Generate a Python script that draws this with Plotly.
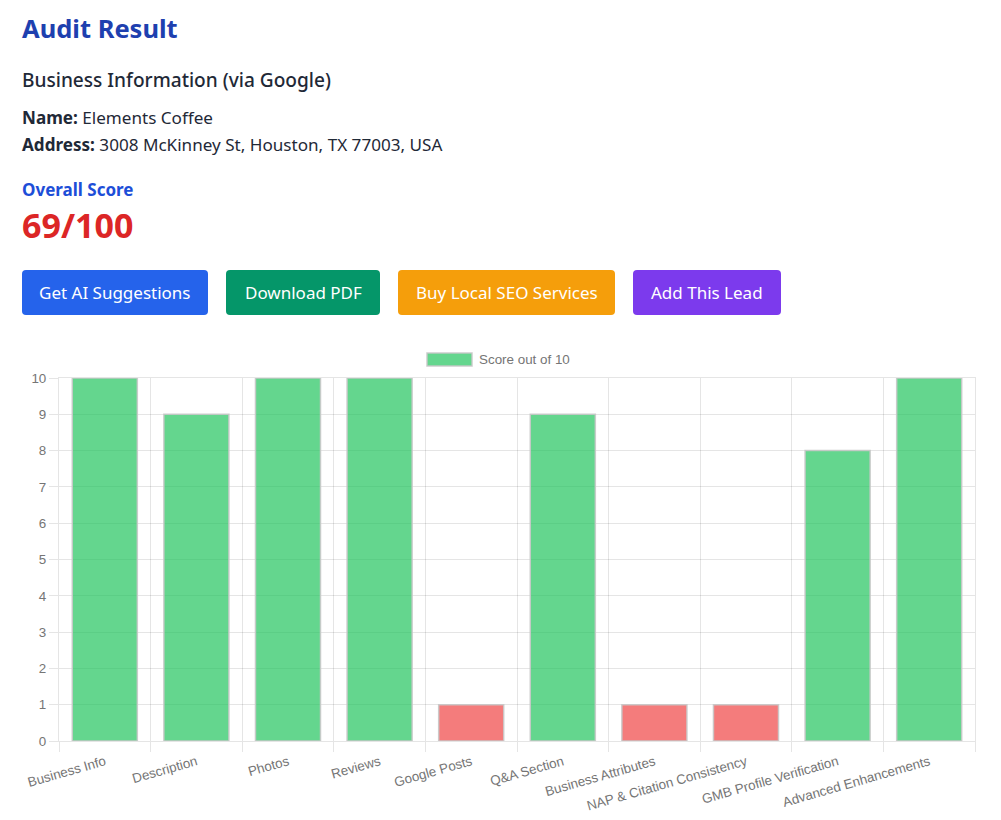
import plotly.graph_objects as go

categories = ["Business Info", "Description", "Photos", "Reviews", "Google Posts", "Q&A Section",
              "Business Attributes", "NAP & Citation Consistency", "GMB Profile Verification",
              "Advanced Enhancements"]
scores = [10, 9, 10, 10, 1, 9, 1, 1, 8, 10]
y_ticks = list(range(0, 11))
series_name = "Score out of 10"

button_labels = ["Get AI Suggestions", "Download PDF", "Buy Local SEO Services", "Add This Lead"]
button_colours = ["#2563eb", "#059669", "#f59e0b", "#7c3aed"]
button_edges = [(22, 208), (226, 380), (398, 615), (633, 781)]

GREEN = "rgba(34,197,94,0.7)"
RED = "rgba(239,68,68,0.7)"
BORDER = "rgba(200,200,200,0.9)"
GRID = "rgba(0,0,0,0.1)"
text_font = "Noto Sans"
chart_font = "Liberation Sans"
chart_text = "#757575"

# the page has an 8px body margin, so the figure starts at (8, 8)
page_margin = 8
plot_left, plot_right, plot_top, plot_bottom = 59, 975, 378, 741


def fx(px):
    return (px - plot_left) / (plot_right - plot_left)


def fy(py):
    return (plot_bottom - py) / (plot_bottom - plot_top)


def label(px, py, text, size, colour, family=text_font, anchor="left", weight=None):
    font = dict(family=family, size=size, color=colour)
    if weight:
        font["weight"] = weight
    return dict(x=fx(px), y=fy(py), xref="paper", yref="paper", text=text, showarrow=False,
                xanchor=anchor, yanchor="middle", align="left", borderpad=0, borderwidth=0, font=font)


def rounded_box(x0, x1, y0, y1, colour, r=4):
    path = (f"M {fx(x0 + r)} {fy(y0)} L {fx(x1 - r)} {fy(y0)} Q {fx(x1)} {fy(y0)} {fx(x1)} {fy(y0 + r)} "
            f"L {fx(x1)} {fy(y1 - r)} Q {fx(x1)} {fy(y1)} {fx(x1 - r)} {fy(y1)} "
            f"L {fx(x0 + r)} {fy(y1)} Q {fx(x0)} {fy(y1)} {fx(x0)} {fy(y1 - r)} "
            f"L {fx(x0)} {fy(y0 + r)} Q {fx(x0)} {fy(y0)} {fx(x0 + r)} {fy(y0)} Z")
    return dict(type="path", xref="paper", yref="paper", path=path, fillcolor=colour,
                line=dict(width=0), layer="above")


bar_colours = [GREEN if s >= 5 else RED for s in scores]

fig = go.Figure(go.Bar(x=categories, y=scores, name=series_name, cliponaxis=False,
                       marker=dict(color=bar_colours, line=dict(color=BORDER, width=1.5))))

annotations = [
    label(22, 28, "<b>Audit Result</b>", 25.5, "#1e40af"),
    label(22, 80, "Business Information (via Google)", 19.1, "#1f2937", weight=500),
    label(22, 117.5, "<b>Name:</b> Elements Coffee", 17.1, "#1f2937"),
    label(22, 144.5, "<b>Address:</b> 3008 McKinney St, Houston, TX 77003, USA", 17.1, "#1f2937"),
    label(22, 189.5, "<b>Overall Score</b>", 17, "#1d4ed8"),
    label(22, 225, "<b>69/100</b>", 34, "#dc2626"),
    label(479, 359, series_name, 13.4, chart_text, family=chart_font),
]
shapes = [dict(type="rect", xref="paper", yref="paper", x0=fx(427), x1=fx(472), y0=fy(366), y1=fy(353),
               fillcolor=GREEN, line=dict(color=BORDER, width=1.5))]

for text, colour, (x0, x1) in zip(button_labels, button_colours, button_edges):
    shapes.append(rounded_box(x0, x1, 270, 315, colour))
    annotations.append(label((x0 + x1) / 2, 292.5, text, 17, "#ffffff", anchor="center"))

fig.update_layout(
    width=1001 - 2 * page_margin,
    height=820 - 2 * page_margin,
    autosize=False,
    margin=dict(l=plot_left - page_margin, r=1001 - page_margin * 2 - (plot_right - page_margin),
                t=plot_top - page_margin, b=820 - page_margin * 2 - (plot_bottom - page_margin), pad=0),
    plot_bgcolor="white",
    paper_bgcolor="white",
    bargap=0.29,
    showlegend=False,
    font=dict(family=chart_font, size=13.4, color=chart_text),
    annotations=annotations,
    shapes=shapes,
)
fig.update_xaxes(type="category", tickson="boundaries", tickangle=-16, ticks="outside", ticklen=10, tickwidth=1,
                 tickcolor=GRID, gridcolor=GRID, showgrid=True, showline=True, mirror=True, automargin=False,
                 linecolor=GRID, ticklabelstandoff=7, tickfont=dict(size=13.4, color=chart_text))
fig.update_yaxes(range=[0, 10], tickvals=y_ticks, ticks="outside", ticklen=9, tickwidth=1, automargin=False,
                 tickcolor=GRID, gridcolor=GRID, showgrid=True, zeroline=False, mirror=True,
                 showline=True, linecolor=GRID, tickfont=dict(size=13.4, color=chart_text))

fig.write_html("out.html")
